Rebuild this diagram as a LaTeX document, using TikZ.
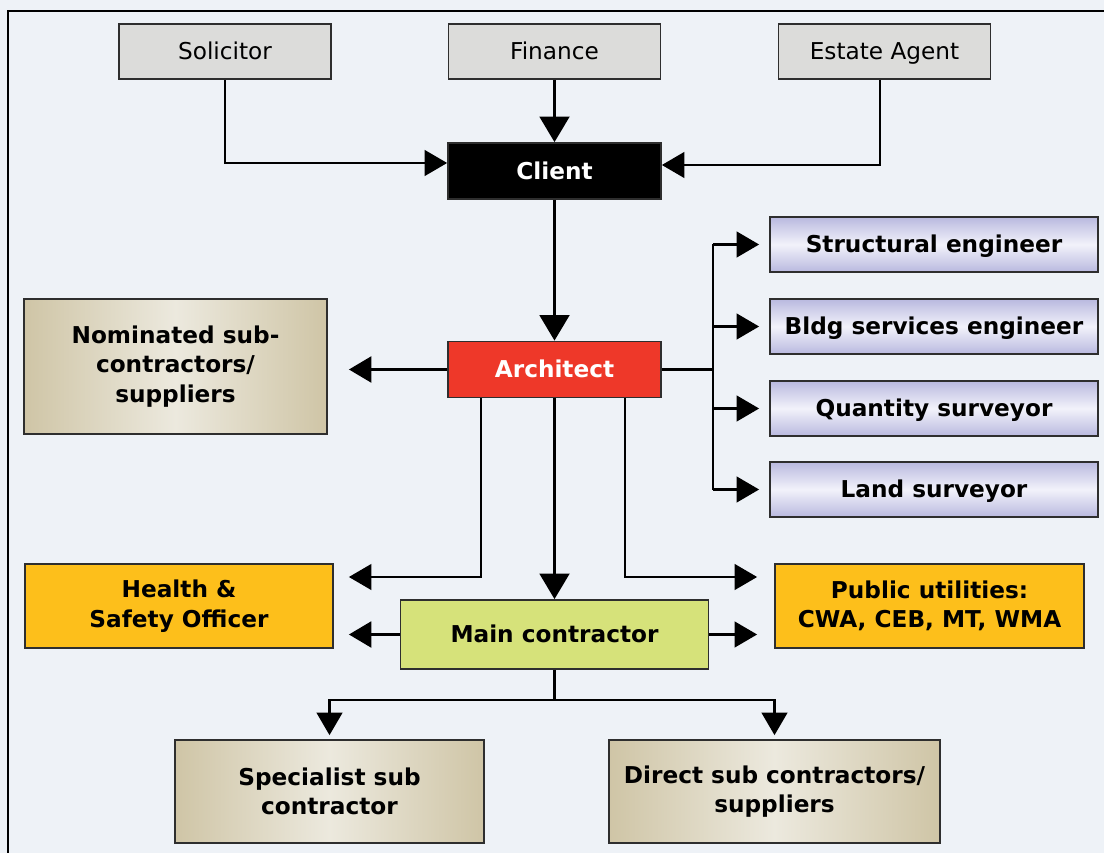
\documentclass[tikz,border=0pt]{standalone}
\usepackage{fontspec}
\setmainfont{DejaVu Sans}
\usetikzlibrary{arrows.meta}

\definecolor{bgpaper}{HTML}{EEF2F7}
\definecolor{boxline}{HTML}{2E2E2E}
\definecolor{greybox}{HTML}{DCDCDA}
\definecolor{archred}{HTML}{EE3829}
\definecolor{lavdark}{HTML}{B9B9DF}
\definecolor{lavlight}{HTML}{F2F2FA}
\definecolor{tandark}{HTML}{CFC5A6}
\definecolor{tanlight}{HTML}{ECE9DE}
\definecolor{amber}{HTML}{FDBF1B}
\definecolor{limegreen}{HTML}{D6E27A}

\begin{document}
\begin{tikzpicture}[x=0.025cm,y=-0.025cm,
  box/.style={draw=boxline,line width=1.2pt,font={\fontsize{16.5}{21}\selectfont\bfseries},align=center,inner sep=0pt},
  oneline/.style={text height=12pt,text depth=0pt},
  topbox/.style={box,oneline,fill=greybox,font={\fontsize{16.5}{21}\selectfont},minimum width=5.3cm,minimum height=1.375cm},
  lavbox/.style={box,oneline,top color=lavdark,bottom color=lavdark,middle color=lavlight,minimum width=8.2cm,minimum height=1.375cm},
  tanbox/.style={box,left color=tandark,right color=tandark,middle color=tanlight},
  ambox/.style={box,fill=amber,minimum height=2.1cm},
  bar/.style={line width=1.5pt},
  link/.style={line width=1.5pt,-{Triangle[length=0.56cm,width=0.64cm]}},
  thicklink/.style={link,line width=2.4pt},
  biglink/.style={line width=2.4pt,-{Triangle[length=0.64cm,width=0.74cm]}}]
\clip (0,0) rectangle (1104,853);
\fill[bgpaper] (0,0) rectangle (1104,853);
\draw[line width=1.5pt] (8,11) rectangle (1130,880);

% top row
\node[topbox] (Solicitor) at (225,51.5) {Solicitor};
\node[topbox] (Finance) at (554.5,51.5) {Finance};
\node[topbox] (Estate) at (884.5,51.5) {Estate Agent};

\node[box,oneline,fill=black,text=white,minimum width=5.325cm,minimum height=1.4cm] (Client) at (554.5,171) {Client};
\node[box,oneline,fill=archred,text=white,minimum width=5.325cm,minimum height=1.4cm] (Architect) at (554.5,369.5) {Architect};

% consultants
\foreach \n/\y/\txt in {Structural/244.5/Structural engineer,Bldg/326.5/Bldg services engineer,Quantity/408.5/Quantity surveyor,Land/489.5/Land surveyor}
  \node[lavbox] (\n) at (934,\y) {\txt};

\node[tanbox,minimum width=7.575cm,minimum height=3.375cm] (Nominated) at (175.5,366.5) {Nominated sub-\\contractors/\\suppliers};
\node[ambox,minimum width=7.7cm] (Health) at (179,606) {Health \&\\Safety Officer};
\node[ambox,minimum width=7.725cm] (Public) at (929.5,606) {Public utilities:\\CWA, CEB, MT, WMA};
\node[box,oneline,fill=limegreen,minimum width=7.7cm,minimum height=1.725cm] (Main) at (554.5,634.5) {Main contractor};
\node[tanbox,minimum width=7.725cm,minimum height=2.575cm] (Specialist) at (329.5,791.5) {Specialist sub\\contractor};
\node[tanbox,minimum width=8.275cm,minimum height=2.575cm] (Direct) at (774.5,791.5) {Direct sub contractors/\\suppliers};

% connectors
\draw[link] (Solicitor) |- ([yshift=0.2cm]Client.west);
\draw[link] (Estate.south -| 880,0) |- ([yshift=0.15cm]Client.east);
\draw[biglink] (Finance) -- (Client);
\draw[biglink] (Client) -- (Architect);
\draw[bar] (Architect.east) -- (Architect.east -| 713,0);
\draw[bar] (Structural.west -| 713,0) -- (Land.west -| 713,0);
\foreach \n in {Structural,Bldg,Quantity,Land}
  \draw[link,shorten >=0.25cm] (\n.west -| 713,0) -- (\n.west);
\draw[thicklink,shorten >=0.525cm] (Architect.west) -- (Architect.west -| Nominated.east);
\draw[link,shorten >=0.375cm] (Architect.south -| 481,0) |- (Health.east |- 0,577);
\draw[biglink] (Architect) -- (Main);
\draw[link,shorten >=0.425cm] (Architect.south -| 625,0) |- (Public.west |- 0,577);
\draw[thicklink,shorten >=0.375cm] (Main.west) -- (Main.west -| Health.east);
\draw[link,shorten >=0.425cm] (Main.east) -- (Main.east -| Public.west);
\draw[bar] (Main.south) -- (Main.south |- 0,700);
\draw[link,shorten >=0.1cm] (Main.south |- 0,700) -| (Specialist);
\draw[link,shorten >=0.1cm] (Main.south |- 0,700) -| (Direct);
\end{tikzpicture}
\end{document}
